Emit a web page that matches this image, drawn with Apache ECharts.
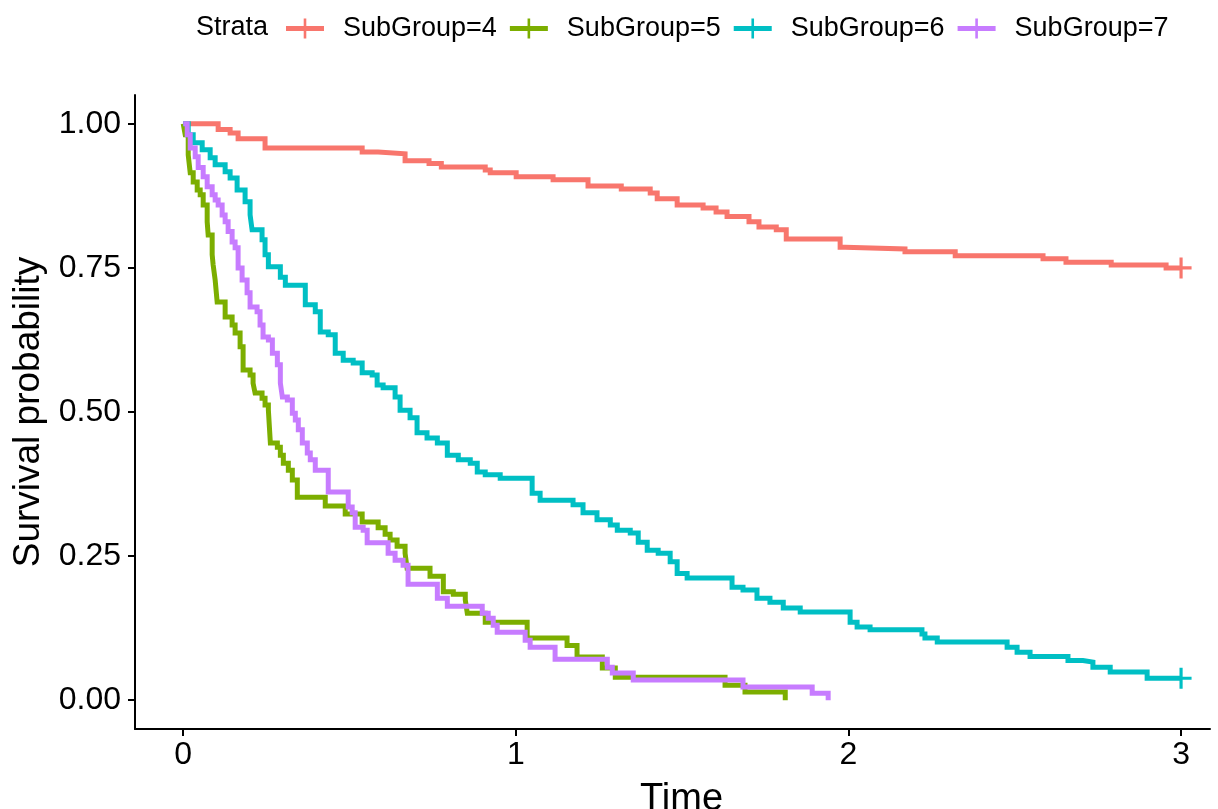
<!DOCTYPE html>
<html>
<head>
<meta charset="utf-8">
<script src="https://cdn.jsdelivr.net/npm/echarts@6/dist/echarts.min.js"></script>
<style>
html,body{margin:0;padding:0;background:#fff;}
#chart{width:1218px;height:809px;}
</style>
</head>
<body>
<div id="chart"></div>
<script>
const groupNames = ['SubGroup=4','SubGroup=5','SubGroup=6','SubGroup=7'];
const groupColors = ['#F8766D','#7CAE00','#00BFC4','#C77CFF'];
const xTicks = [0,1,2,3];
const yTicks = [0,0.25,0.5,0.75,1];

const sg4Time = [0,0.105,0.141,0.165,0.246,0.538,0.586,0.667,0.739,0.776,0.908,0.923,1.001,1.112,1.217,1.317,1.404,1.425,1.485,1.563,1.602,1.635,1.701,1.731,1.783,1.813,1.975,1.990,2.170,2.321,2.585,2.654,2.790,2.955,3.0];
const sg4Surv = [1,0.990,0.984,0.974,0.958,0.951,0.948,0.936,0.931,0.925,0.920,0.915,0.908,0.903,0.892,0.887,0.880,0.870,0.859,0.854,0.847,0.839,0.830,0.821,0.816,0.800,0.786,0.783,0.778,0.771,0.766,0.760,0.755,0.750,0.750];

const sg5Time = [0,0.006,0.015,0.021,0.030,0.042,0.051,0.060,0.072,0.075,0.087,0.090,0.096,0.102,0.126,0.147,0.156,0.171,0.180,0.201,0.210,0.216,0.237,0.246,0.256,0.262,0.283,0.292,0.301,0.316,0.328,0.343,0.427,0.487,0.538,0.586,0.607,0.622,0.643,0.667,0.673,0.742,0.782,0.812,0.848,0.854,0.908,1.034,1.154,1.184,1.260,1.299,1.629,1.689,1.810];
const sg5Surv = [1,0.981,0.946,0.915,0.899,0.885,0.877,0.859,0.830,0.807,0.773,0.755,0.729,0.691,0.665,0.651,0.637,0.613,0.573,0.564,0.550,0.533,0.524,0.512,0.503,0.446,0.439,0.425,0.411,0.399,0.382,0.352,0.337,0.323,0.309,0.299,0.288,0.278,0.267,0.255,0.229,0.215,0.188,0.184,0.174,0.151,0.135,0.108,0.095,0.075,0.056,0.040,0.026,0.014,0];

const sg6Time = [0,0.015,0.030,0.057,0.081,0.096,0.126,0.141,0.162,0.186,0.201,0.207,0.237,0.246,0.256,0.292,0.307,0.367,0.397,0.412,0.436,0.457,0.481,0.511,0.538,0.568,0.583,0.601,0.637,0.652,0.682,0.703,0.733,0.764,0.794,0.827,0.863,0.884,0.908,0.953,1.049,1.073,1.172,1.202,1.244,1.284,1.305,1.344,1.368,1.395,1.428,1.464,1.485,1.515,1.650,1.683,1.725,1.764,1.804,1.855,2.005,2.026,2.065,2.221,2.230,2.267,2.477,2.507,2.546,2.660,2.705,2.735,2.787,2.898,3.0];
const sg6Surv = [1,0.981,0.967,0.955,0.941,0.929,0.917,0.906,0.885,0.865,0.842,0.816,0.799,0.773,0.752,0.734,0.720,0.686,0.674,0.639,0.634,0.602,0.590,0.585,0.568,0.564,0.547,0.542,0.526,0.503,0.490,0.464,0.455,0.446,0.425,0.417,0.411,0.396,0.391,0.385,0.359,0.347,0.339,0.325,0.313,0.304,0.295,0.290,0.274,0.260,0.255,0.240,0.220,0.212,0.196,0.191,0.177,0.170,0.160,0.153,0.135,0.127,0.122,0.115,0.108,0.101,0.092,0.083,0.076,0.069,0.066,0.057,0.049,0.038,0.038];

const sg7Time = [0,0.012,0.021,0.036,0.045,0.060,0.072,0.087,0.096,0.105,0.117,0.126,0.135,0.147,0.156,0.165,0.177,0.192,0.201,0.222,0.231,0.240,0.256,0.268,0.283,0.292,0.298,0.313,0.328,0.337,0.346,0.358,0.373,0.382,0.397,0.436,0.496,0.508,0.517,0.541,0.553,0.616,0.637,0.661,0.676,0.764,0.794,0.899,0.917,0.932,0.944,1.028,1.043,1.118,1.275,1.290,1.353,1.683,1.891,1.939];
const sg7Surv = [1,0.981,0.958,0.943,0.924,0.908,0.891,0.877,0.868,0.859,0.842,0.830,0.813,0.795,0.785,0.750,0.729,0.707,0.682,0.674,0.651,0.630,0.625,0.602,0.582,0.550,0.526,0.521,0.498,0.486,0.469,0.446,0.429,0.417,0.399,0.361,0.335,0.325,0.300,0.295,0.273,0.255,0.243,0.234,0.201,0.177,0.163,0.151,0.142,0.130,0.118,0.104,0.092,0.071,0.057,0.047,0.035,0.023,0.012,0];

const censorTime = [3.0, 3.0];
const censorSurv = [0.750, 0.038];
const censorGroup = [0, 2];

const times = [sg4Time, sg5Time, sg6Time, sg7Time];
const survs = [sg4Surv, sg5Surv, sg6Surv, sg7Surv];

const FONT = 'Liberation Sans';
const plusPath = 'path://M0,8.5 L20,8.5 L20,11.5 L0,11.5 Z M8.5,0 L11.5,0 L11.5,20 L8.5,20 Z';
const legendIcon = 'path://M0,7.5 L38,7.5 L38,12.5 L0,12.5 Z M17.7,0 L20.3,0 L20.3,20 L17.7,20 Z';

const series = groupNames.map((name, i) => ({
  name: name,
  type: 'line',
  step: 'end',
  showSymbol: false,
  symbol: 'none',
  data: times[i].map((t, k) => [t, survs[i][k]]),
  lineStyle: { color: groupColors[i], width: 5, cap: 'butt', join: 'miter' },
  itemStyle: { color: groupColors[i] },
  z: 2 + i,
  animation: false
}));
censorTime.forEach((t, j) => {
  const g = censorGroup[j];
  series.push({
    name: 'censor' + j,
    type: 'scatter',
    data: [[t, censorSurv[j]]],
    symbol: plusPath,
    symbolSize: 21,
    itemStyle: { color: groupColors[g], opacity: 1 },
    z: 10,
    animation: false,
    silent: true
  });
});

const chart = echarts.init(document.getElementById('chart'), null, { renderer: 'canvas' });
chart.setOption({
  backgroundColor: '#ffffff',
  animation: false,
  textStyle: { fontFamily: FONT },
  grid: { left: 135, right: 8, top: 95, bottom: 80, containLabel: false, outerBoundsMode: 'none' },
  graphic: [{
    type: 'text', left: 196, top: 14,
    style: { text: 'Strata', font: '27px "Liberation Sans"', fill: '#000' }
  }],
  legend: {
    data: groupNames,
    top: 10, left: 281,
    icon: legendIcon,
    itemWidth: 38, itemHeight: 20, itemGap: 13,
    textStyle: { fontFamily: FONT, fontSize: 27, color: '#000', padding: [0, 0, 0, 14] }
  },
  xAxis: {
    type: 'value', min: -0.145, max: 3.087,
    name: 'Time', nameLocation: 'middle', nameGap: 52,
    nameTextStyle: { fontFamily: FONT, fontSize: 38, color: '#000', padding: [0, 0, 0, 18] },
    axisLine: { show: true, onZero: false, lineStyle: { color: '#000', width: 2 } },
    axisTick: { show: true, length: 7, lineStyle: { color: '#000', width: 2 }, customValues: xTicks },
    axisLabel: { fontFamily: FONT, fontSize: 32, color: '#000', margin: 10, customValues: xTicks, formatter: v => String(v) },
    splitLine: { show: false }
  },
  yAxis: {
    type: 'value', min: -0.05, max: 1.05,
    name: 'Survival probability', nameLocation: 'middle', nameGap: 88, nameRotate: 90,
    nameTextStyle: { fontFamily: FONT, fontSize: 37, color: '#000' },
    axisLine: { show: true, onZero: false, lineStyle: { color: '#000', width: 2 } },
    axisTick: { show: true, length: 7, lineStyle: { color: '#000', width: 2 }, customValues: yTicks },
    axisLabel: { fontFamily: FONT, fontSize: 32, color: '#000', margin: 14, customValues: yTicks, formatter: v => v.toFixed(2) },
    splitLine: { show: false }
  },
  series: series
});
</script>
</body>
</html>
